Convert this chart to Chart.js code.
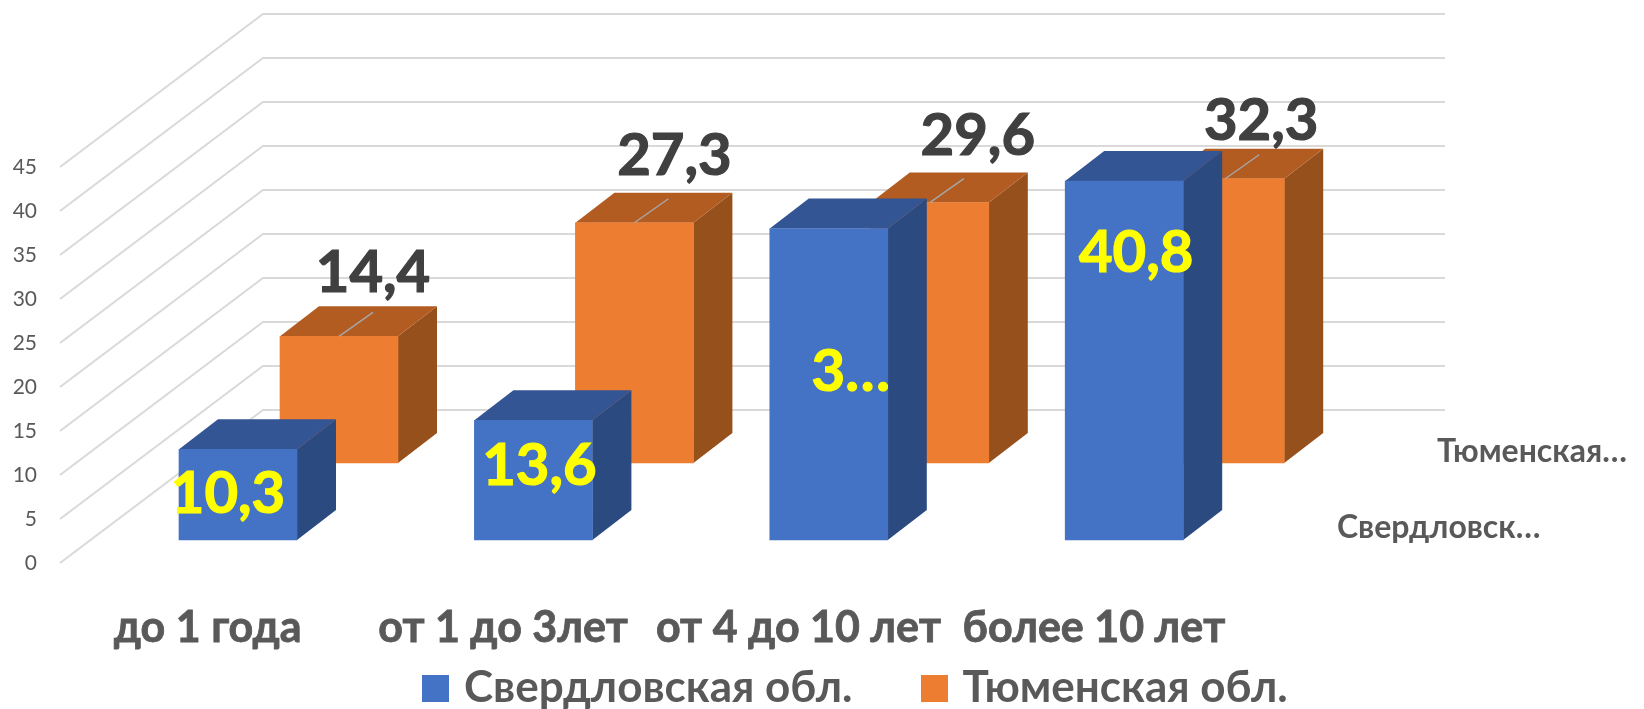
<!DOCTYPE html>
<html lang="ru">
<head>
<meta charset="utf-8">
<title>Стаж</title>
<script src="https://cdn.jsdelivr.net/npm/chart.js@4"></script>
<style>
    html, body { margin: 0; padding: 0; background: #fff; }
    canvas { display: block; }
</style>
</head>
<body>
<canvas id="stageChart" width="1644" height="709"></canvas>
<script>
// Data
const categories = ['до 1 года', 'от 1 до 3лет', 'от 4 до 10 лет', 'более 10 лет'];
const seriesNames = ['Свердловская обл.', 'Тюменская обл.'];
const sverdlovskValues = [10.3, 13.6, 35.4, 40.8];
const tyumenValues = [14.4, 27.3, 29.6, 32.3];
const sverdlovskLabels = ['10,3', '13,6', '3…', '40,8'];
const tyumenLabels = ['14,4', '27,3', '29,6', '32,3'];
const depthLabels = ['Свердловск…', 'Тюменская…'];
const yTicks = [0, 5, 10, 15, 20, 25, 30, 35, 40, 45];
const seriesColors = ['#4472C4', '#ED7D31'];

// Geometry of the fake 3D box, in px
const wallDx = 203, wallDy = 153, wallEnd = 1445;
const boxDx = 39, boxDy = 30;
const pxPerUnit = 8.8, catWidth = 295.4;
const rowBlue = { shiftX: 30.3, lift: 23 };
const rowOrange = { shiftX: 131.3, lift: 100 };

// label offsets from the bar anchor (top centre for orange, middle for blue)
const orangeLabelShift = [[34, -63], [40, -66], [48, -66], [36, -57]];
const blueLabelShift = [[-10, 0], [6, -14], [22, -12], [12, -107]];

const textGrey = '#595959';

function xRange(shift) {
    const s = shift / catWidth;
    return { min: -0.5 - s, max: 3.5 - s };
}
function yRange(lift) {
    const m = lift / pxPerUnit;
    return { min: -m, max: 45 - m };
}

function hiddenLinear(range) {
    return { type: 'linear', display: false, offset: false, min: range.min, max: range.max };
}

// legend square is wider than the slot Chart.js gives it, so the text sits closer
function makeSwatch(color) {
    const c = document.createElement('canvas');
    c.width = 27;
    c.height = 27;
    const g = c.getContext('2d');
    g.fillStyle = color;
    g.fillRect(0, 0, 27, 27);
    return c;
}
const swatches = seriesColors.map(makeSwatch);

// Draws the walls, box faces and the texts that Chart.js has no 3D option for
const box3d = {
    id: 'box3d',
    afterLayout(chart) {
        const lg = chart.legend;
        lg.left = 429 - lg.options.labels.padding;
        lg.right = 1644;
        lg.top = 591;
        lg.bottom = 709;
    },
    beforeDatasetsDraw(chart) {
        const { ctx, scales: { y }, chartArea } = chart;
        ctx.save();
        ctx.strokeStyle = '#D9D9D9';
        ctx.lineWidth = 2;
        y.ticks.forEach(t => {
            const py = y.getPixelForValue(t.value);
            ctx.beginPath();
            ctx.moveTo(chartArea.left, py);
            ctx.lineTo(chartArea.left + wallDx, py - wallDy);
            ctx.lineTo(wallEnd, py - wallDy);
            ctx.stroke();
        });
        ctx.restore();
    },
    beforeDatasetDraw(chart, args) {
        const { ctx } = chart;
        const ds = chart.data.datasets[args.index];
        ctx.save();
        chart.getDatasetMeta(args.index).data.forEach(bar => {
            const l = bar.x - bar.width / 2, r = bar.x + bar.width / 2;
            ctx.fillStyle = ds.sideColor;
            ctx.beginPath();
            ctx.moveTo(r, bar.y);
            ctx.lineTo(r + boxDx, bar.y - boxDy);
            ctx.lineTo(r + boxDx, bar.base - boxDy);
            ctx.lineTo(r, bar.base);
            ctx.closePath();
            ctx.fill();
            ctx.fillStyle = ds.topColor;
            ctx.beginPath();
            ctx.moveTo(l, bar.y);
            ctx.lineTo(l + boxDx, bar.y - boxDy);
            ctx.lineTo(r + boxDx, bar.y - boxDy);
            ctx.lineTo(r, bar.y);
            ctx.closePath();
            ctx.fill();
        });
        ctx.restore();
    },
    afterDatasetsDraw(chart) {
        const { ctx } = chart;
        const blue = chart.getDatasetMeta(0).data;
        const orange = chart.getDatasetMeta(1).data;
        const heavyText = (text, x, y, color) => {
            ctx.fillStyle = color;
            ctx.strokeStyle = color;
            ctx.lineWidth = 1.2;
            ctx.fillText(text, x, y);
            ctx.strokeText(text, x, y);
        };
        ctx.save();
        ctx.textAlign = 'center';
        ctx.textBaseline = 'middle';
        ctx.font = 'bold 58px Lato';

        orange.forEach((bar, i) => {
            ctx.strokeStyle = '#A6A6A6';
            ctx.lineWidth = 1.5;
            ctx.beginPath();
            ctx.moveTo(bar.x, bar.y);
            ctx.lineTo(bar.x + 34, bar.y - 24);
            ctx.stroke();
            heavyText(tyumenLabels[i], bar.x + orangeLabelShift[i][0], bar.y + orangeLabelShift[i][1], '#404040');
        });

        blue.forEach((bar, i) => {
            heavyText(sverdlovskLabels[i], bar.x + blueLabelShift[i][0], (bar.y + bar.base) / 2 + blueLabelShift[i][1], '#FFFF00');
        });

        // depth axis names
        ctx.textAlign = 'left';
        ctx.font = 'bold 32px Lato';
        ctx.fillStyle = textGrey;
        ctx.fillText(depthLabels[0], 1337, blue[0].base - 12);
        ctx.fillText(depthLabels[1], 1437, orange[0].base - 11);
        ctx.restore();
    }
};

new Chart(document.getElementById('stageChart').getContext('2d'), {
    type: 'bar',
    data: {
        labels: categories,
        datasets: [{
            label: seriesNames[0],
            data: sverdlovskValues.map((v, i) => ({ x: i, y: v })),
            xAxisID: 'xBlue',
            yAxisID: 'yBlue',
            backgroundColor: seriesColors[0],
            topColor: '#335593',
            sideColor: '#2B4A80',
            barThickness: 118,
            grouped: false,
            clip: false,
            order: 0
        }, {
            label: seriesNames[1],
            data: tyumenValues.map((v, i) => ({ x: i, y: v })),
            xAxisID: 'xOrange',
            yAxisID: 'yOrange',
            backgroundColor: seriesColors[1],
            topColor: '#B35C22',
            sideColor: '#96501C',
            barThickness: 118,
            grouped: false,
            clip: false,
            order: 1
        }]
    },
    plugins: [box3d],
    options: {
        responsive: false,
        animation: false,
        layout: { padding: { top: 167, right: 402.4, left: 0, bottom: 0 } },
        plugins: {
            tooltip: { enabled: false },
            legend: {
                position: 'bottom',
                align: 'start',
                maxHeight: 40,
                labels: {
                    usePointStyle: true,
                    pointStyleWidth: 13,
                    boxHeight: 27,
                    padding: 75,
                    color: textGrey,
                    font: { family: 'Lato', weight: 'bold', size: 44 },
                    generateLabels(chart) {
                        const base = Chart.defaults.plugins.legend.labels.generateLabels(chart);
                        return base.map((item, i) => ({ ...item, pointStyle: swatches[i] }));
                    }
                }
            }
        },
        scales: {
            x: {
                type: 'category',
                labels: categories,
                grid: { display: false },
                border: { display: false },
                afterFit(s) { s.height = 106; },
                ticks: {
                    autoSkip: false,
                    maxRotation: 0,
                    padding: 31,
                    color: textGrey,
                    textStrokeColor: textGrey,
                    textStrokeWidth: 0.8,
                    font: { family: 'Lato', weight: 'bold', size: 43 }
                }
            },
            y: {
                type: 'linear',
                min: yTicks[0],
                max: yTicks[yTicks.length - 1],
                grid: { display: false },
                border: { display: false },
                afterFit(s) { s.width = 60; },
                afterBuildTicks(s) { s.ticks = yTicks.map(v => ({ value: v })); },
                ticks: {
                    padding: 15,
                    color: textGrey,
                    font: { family: 'Lato', size: 21 }
                }
            },
            xBlue: hiddenLinear(xRange(rowBlue.shiftX)),
            xOrange: hiddenLinear(xRange(rowOrange.shiftX)),
            yBlue: hiddenLinear(yRange(rowBlue.lift)),
            yOrange: hiddenLinear(yRange(rowOrange.lift))
        }
    }
});
</script>
</body>
</html>
